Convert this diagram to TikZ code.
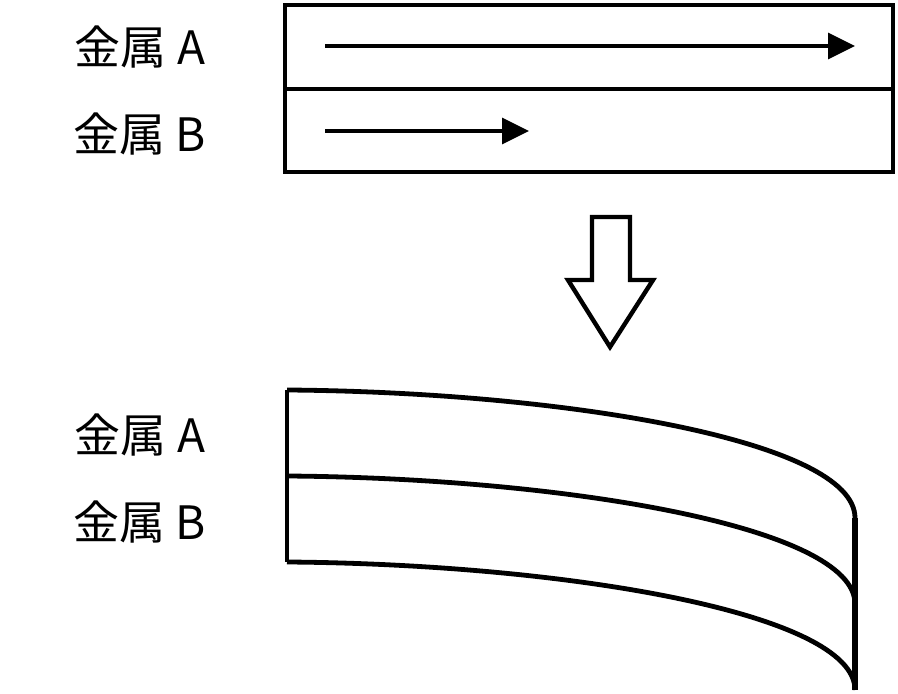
\documentclass[tikz,border=0pt]{standalone}
\usepackage{fontspec}
\newfontfamily\cjk{Noto Sans CJK JP}
\usetikzlibrary{positioning, arrows.meta}

\begin{document}
\begin{tikzpicture}[x=0.5pt,y=-0.5pt,
			metal/.style={font=\cjk\fontsize{23}{23}\selectfont,inner sep=0pt},
			layer/.style={line width=2.4pt},
			stretch/.style={line width=1.7pt,-{Triangle[length=13.5pt,width=13pt]}}]
	\useasboundingbox (0,0) rectangle (898,694);
	% before heating
	\draw[layer] (285,5) rectangle (893,172);
	\draw[layer] (285,89) -- (893,89);
	\node[metal] (mA) at (140,47) {金属 A};
	\node[metal,below=22pt of mA] (mB) {金属 B};
	\coordinate (a0) at (325,46); \coordinate (a1) at (855,46);
	\coordinate (b0) at (325,131); \coordinate (b1) at (529,131);
	\draw[stretch] (a0) -- (a1);
	\draw[stretch] (b0) -- (b1);
	% heating
	\draw[line width=2.2pt,line join=miter] (592,217) -- (630,217) -- (630,280)
		-- (653,280) -- (610,347) -- (568,280) -- (592,280) -- cycle;
	% after heating
	\node[metal] (nA) at (140,435) {金属 A};
	\node[metal,below=22pt of nA] (nB) {金属 B};
	\foreach \d in {0,86,172}
		{\draw[layer] (287,{390+\d}) .. controls (560,{392+\d}) and (855,{440+\d})
			.. (855,{518+\d});}
	\draw[layer] (287,390) -- (287,562);
	\draw[line width=2.8pt] (855,518) -- (855,690);
\end{tikzpicture}
\end{document}
